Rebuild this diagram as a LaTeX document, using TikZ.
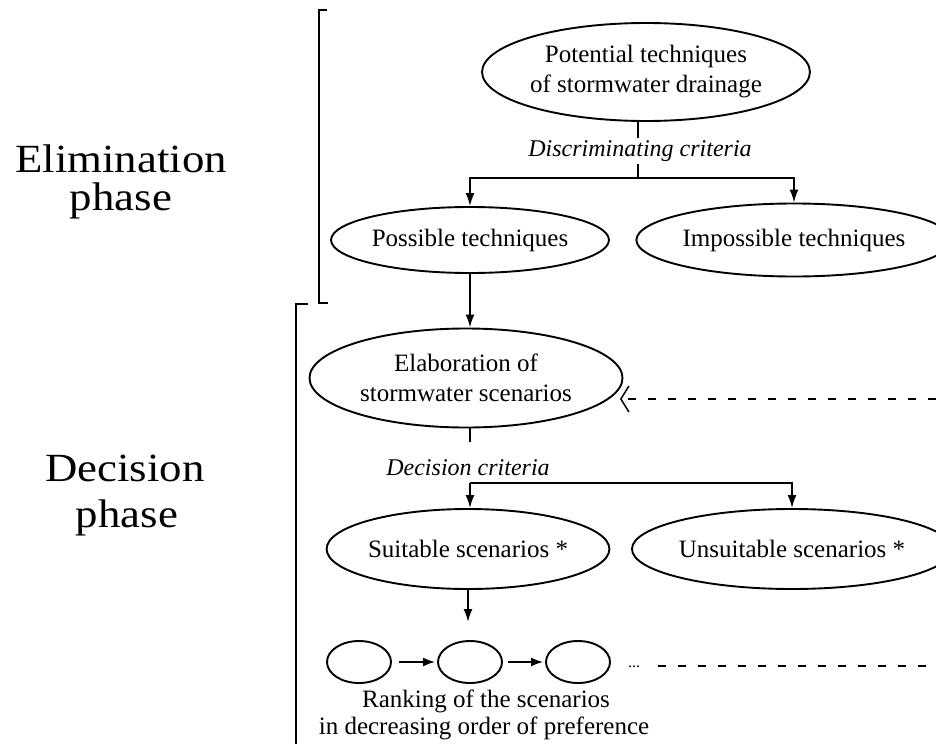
\documentclass[tikz,border=0pt]{standalone}
\usepackage{fontspec}
\setmainfont{Liberation Serif}
\newfontfamily\widefont[FakeStretch=1.12]{Liberation Serif}
\usetikzlibrary{shapes.geometric,arrows.meta}
\begin{document}
\begin{tikzpicture}[x=1pt,y=-1pt,
  ell/.style={draw, ellipse, line width=1.9pt, inner sep=0pt, align=center,
    font=\fontsize{25}{30}\selectfont},
  circ/.style={draw, ellipse, line width=1.9pt, inner sep=0pt,
    minimum width=64pt, minimum height=42pt},
  ln/.style={line width=1.8pt},
  arr/.style={line width=1.8pt, -{Latex[length=13pt,width=9pt]}},
  sarr/.style={line width=1.8pt, -{Latex[length=12pt,width=9pt]}},
  dsh/.style={line width=1.5pt, dash pattern=on 8pt off 12pt},
  crit/.style={font=\fontsize{24}{28}\selectfont\itshape, inner sep=2pt},
  big/.style={font=\widefont\fontsize{40}{40}\selectfont, inner sep=0pt, anchor=base},
  txt/.style={font=\fontsize{25}{28}\selectfont, inner sep=0pt, anchor=base}
]
\useasboundingbox (0,0) rectangle (936,744);

% phase labels
\node[big] (el1) at (121,172) {Elimination};
\node[big] (el2) at (121,210) {phase};
\node[big] (de1) at (125,481) {Decision};
\node[big] (de2) at (127,527) {phase};

% brackets
\draw[ln] (327,10) -- (319,10) -- (319,303) -- (328,303);
\draw[ln] (308,304) -- (296,304) -- (296,744);

% nodes
\node[ell, minimum width=312pt, minimum height=98pt] (top) at (646,72)
  {Potential techniques\\of stormwater drainage};
\node[crit] (disc) at (640,151) {Discriminating criteria};
\coordinate (j1) at (638,178);
\node[ell, minimum width=238pt, minimum height=66pt] (poss) at (470,240)
  {Possible techniques};
\node[ell, minimum width=276pt, minimum height=73pt] (imp) at (794,240)
  {Impossible techniques};
\node[ell, minimum width=313pt, minimum height=99pt] (elab) at (466,378)
  {Elaboration of\\stormwater scenarios};
\coordinate (s1) at (470,442);
\node[crit] (dec) at (468,468) {Decision criteria};
\coordinate (j2) at (470,483);
\node[ell, minimum width=236pt, minimum height=80pt] (suit) at (468,549)
  {Suitable scenarios *};
\node[ell, minimum width=281pt, minimum height=80pt] (unsuit) at (792,549)
  {Unsuitable scenarios *};
\coordinate (a3) at (468,622);
\node[circ] (c1) at (359,662) {};
\node[circ] (c2) at (470,662) {};
\node[circ] (c3) at (578,662) {};
\node[font=\fontsize{16}{16}\selectfont, inner sep=0pt, anchor=base] (dots) at (634,667) {...};
\node[txt] (rk1) at (486,707) {Ranking of the scenarios};
\node[txt] (rk2) at (484,734) {in decreasing order of preference};

% connectors
\draw[ln] (top.south -| j1) -- (disc.north -| j1);
\draw[ln] (disc.south -| j1) -- (j1);
\draw[arr] (j1) -| (poss.north);
\draw[arr] (j1) -| (imp.north);
\draw[arr] (poss.south) -- (poss.south |- elab.north);
\draw[ln] (elab.south -| s1) -- (s1);
\draw[arr] (j2) -- (j2 |- suit.north);
\draw[arr] (j2) -| (unsuit.north);
\draw[arr] (suit.south) -- (a3);
\draw[sarr, shorten <=7pt, shorten >=2pt] (c1.east) -- (c2.west);
\draw[sarr, shorten <=5pt, shorten >=2pt] (c2.east) -- (c3.west);

% feedback dashed lines
\coordinate (fb) at (936,399);
\coordinate (fbend) at (620,399);
\draw[dsh, -{Straight Barb[length=8pt,width=26pt,line width=1.5pt]}] (fb) -- (fbend);
\coordinate (d1) at (658,666);
\coordinate (d2) at (936,666);
\draw[dsh] (d1) -- (d2);
\end{tikzpicture}
\end{document}
